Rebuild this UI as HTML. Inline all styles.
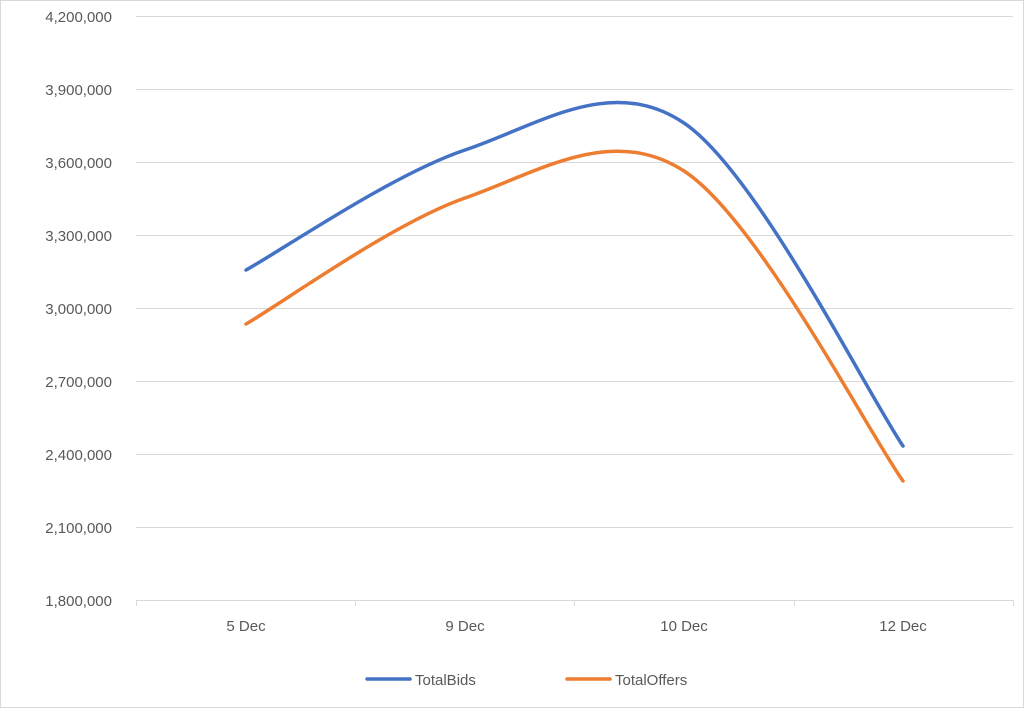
<!DOCTYPE html>
<html><head><style>body{margin:0;background:#fff}svg{display:block}text{font-family:"Liberation Sans",sans-serif;fill:#595959;font-size:15px}</style></head><body>
<svg width="1024" height="708" viewBox="0 0 1024 708">
<rect x="0.5" y="0.5" width="1023" height="707" fill="#fff" stroke="#d9d9d9"/>
<g stroke="#d9d9d9" stroke-width="1">
<line x1="136" y1="16.5" x2="1013" y2="16.5"/><line x1="136" y1="89.5" x2="1013" y2="89.5"/><line x1="136" y1="162.5" x2="1013" y2="162.5"/><line x1="136" y1="235.5" x2="1013" y2="235.5"/><line x1="136" y1="308.5" x2="1013" y2="308.5"/><line x1="136" y1="381.5" x2="1013" y2="381.5"/><line x1="136" y1="454.5" x2="1013" y2="454.5"/><line x1="136" y1="527.5" x2="1013" y2="527.5"/><line x1="136" y1="600.5" x2="1013" y2="600.5"/>
<line x1="136.5" y1="600" x2="136.5" y2="606"/><line x1="355.5" y1="600" x2="355.5" y2="606"/><line x1="574.5" y1="600" x2="574.5" y2="606"/><line x1="794.5" y1="600" x2="794.5" y2="606"/><line x1="1013.5" y1="600" x2="1013.5" y2="606"/>
</g>
<g text-anchor="end">
<text x="112" y="22">4,200,000</text><text x="112" y="95">3,900,000</text><text x="112" y="168">3,600,000</text><text x="112" y="241">3,300,000</text><text x="112" y="314">3,000,000</text><text x="112" y="387">2,700,000</text><text x="112" y="460">2,400,000</text><text x="112" y="533">2,100,000</text><text x="112" y="606">1,800,000</text>
</g>
<g text-anchor="middle">
<text x="246" y="631">5 Dec</text><text x="465" y="631">9 Dec</text><text x="684" y="631">10 Dec</text><text x="903" y="631">12 Dec</text>
</g>
<path d="M246,270 C282.5,250 392,174.5 465,150 C538,125.5 611,73.7 684,123 C757,172.3 866.5,392.2 903,446" fill="none" stroke="#4472c4" stroke-width="3.5" stroke-linecap="round"/>
<path d="M246,324 C282.5,303 392,223.5 465,198 C538,172.5 611,123.8 684,171 C757,218.2 866.5,429.3 903,481" fill="none" stroke="#ed7d31" stroke-width="3.5" stroke-linecap="round"/>
<line x1="367" y1="679" x2="410" y2="679" stroke="#4472c4" stroke-width="3.5" stroke-linecap="round"/>
<text x="415" y="685">TotalBids</text>
<line x1="567" y1="679" x2="610" y2="679" stroke="#ed7d31" stroke-width="3.5" stroke-linecap="round"/>
<text x="615" y="685">TotalOffers</text>
</svg>
</body></html>
